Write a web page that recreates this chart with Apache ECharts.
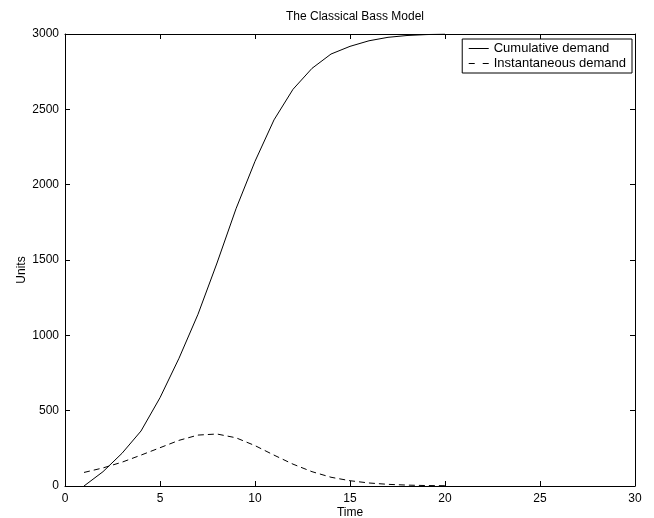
<!DOCTYPE html>
<html>
<head>
<meta charset="utf-8">
<script src="https://cdn.jsdelivr.net/npm/echarts@6/dist/echarts.min.js"></script>
<style>
html,body{margin:0;padding:0;background:#fff;}
#c{width:654px;height:518px;}
</style>
</head>
<body>
<div id="c"></div>
<script>
const times = [1,2,3,4,5,6,7,8,9,10,11,12,13,14,15,16,17,18,19,20];
const cumulative = [0,95,217,365,586,848,1140,1480,1840,2155,2430,2633,2772,2867,2918,2955,2978,2990,2996,3000];
const instantaneous = [90,120,158,205,254,303,338,345,320,268,205,145,95,58,35,20,11,6,3,2];
const xTicks = {min:0, max:30, interval:5};
const yTicks = {min:0, max:3000, interval:500};

const font = 'Liberation Sans, Arial, Helvetica, sans-serif';
const chart = echarts.init(document.getElementById('c'), null, {renderer:'canvas'});
const pairs = (ys) => times.map((t,i)=>[t, ys[i]]);
const axisCommon = {
  axisLine:{show:true, onZero:false, lineStyle:{color:'#000', width:1}},
  axisTick:{show:true, inside:true, length:5, lineStyle:{color:'#000', width:1}},
  splitLine:{show:false}
};
chart.setOption({
  animation:false,
  backgroundColor:'#fff',
  title:{text:'The Classical Bass Model', left:350, top:6, textAlign:'center',
    textStyle:{fontFamily:font, fontSize:12, fontWeight:'normal', color:'#000'}},
  grid:{left:65, right:19, top:34, bottom:32, show:false, outerBoundsMode:'none', containLabel:false},
  legend:{
    right:22, top:39, orient:'vertical',
    backgroundColor:'#fff', borderColor:'#000', borderWidth:1, borderRadius:0,
    padding:[3,6,3,6], itemGap:2, itemWidth:20, itemHeight:12,
    itemStyle:{opacity:0},
    lineStyle:{width:1, color:'#000', type:'inherit'},
    textStyle:{fontFamily:font, fontSize:13, color:'#000'},
    data:[
      {name:'Cumulative demand'},
      {name:'Instantaneous demand', lineStyle:{type:[6,8], width:1, color:'#000'}}
    ]
  },
  xAxis:[
    Object.assign({type:'value', position:'bottom', min:xTicks.min, max:xTicks.max, interval:xTicks.interval,
      name:'Time', nameLocation:'middle', nameGap:21, nameMoveOverlap:false,
      nameTextStyle:{fontFamily:font, fontSize:12, color:'#000', verticalAlign:'top'},
      axisLabel:{fontFamily:font, fontSize:12, color:'#000', margin:7, formatter:(v)=>String(v)}}, axisCommon),
    Object.assign({type:'value', position:'top', min:xTicks.min, max:xTicks.max, interval:xTicks.interval,
      axisLabel:{show:false}}, axisCommon)
  ],
  yAxis:[
    Object.assign({type:'value', position:'left', min:yTicks.min, max:yTicks.max, interval:yTicks.interval,
      name:'Units', nameLocation:'middle', nameGap:37, nameRotate:90, nameMoveOverlap:false,
      nameTextStyle:{fontFamily:font, fontSize:12, color:'#000', padding:[0,0,0,-20]},
      axisLabel:{fontFamily:font, fontSize:12, color:'#000', margin:6, formatter:(v)=>String(v)}}, axisCommon),
    Object.assign({type:'value', position:'right', min:yTicks.min, max:yTicks.max, interval:yTicks.interval,
      axisLabel:{show:false}}, axisCommon)
  ],
  series:[
    {name:'Cumulative demand', type:'line', data:pairs(cumulative), symbol:'none',
      lineStyle:{color:'#000', width:1, type:'solid'}, itemStyle:{color:'#000'}},
    {name:'Instantaneous demand', type:'line', data:pairs(instantaneous), symbol:'none',
      lineStyle:{color:'#000', width:1, type:[6,4]}, itemStyle:{color:'#000'}}
  ]
});
</script>
</body>
</html>
